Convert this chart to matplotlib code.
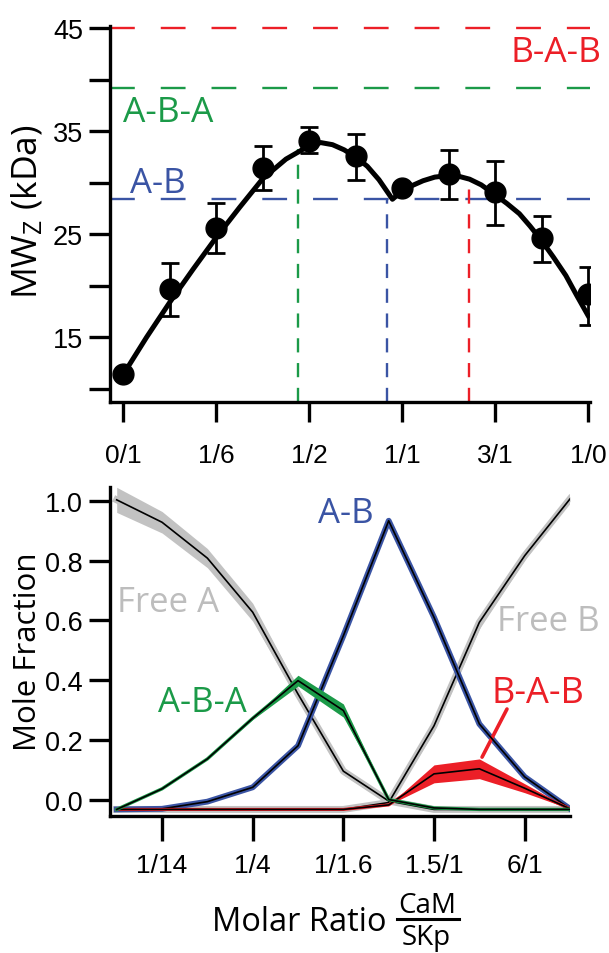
import matplotlib
matplotlib.use('Agg')
import matplotlib.pyplot as plt
from matplotlib.lines import Line2D

# ---------------- data: top panel ----------------
top_x = [0, 1, 2, 3, 4, 5, 6, 7, 8, 9, 10]
top_tick_pos = [0, 2, 4, 6, 8, 10]
top_tick_labels = ['0/1', '1/6', '1/2', '1/1', '3/1', '1/0']
mwz = [11.4, 19.7, 25.6, 31.4, 34.1, 32.6, 29.5, 30.9, 29.1, 24.6, 19.2]
mwz_err_lo = [0.0, 2.6, 2.4, 2.1, 1.2, 2.3, 0.5, 2.5, 3.2, 2.3, 3.0]
mwz_err_hi = [0.0, 2.5, 2.4, 2.2, 1.3, 2.1, 0.5, 2.3, 3.0, 2.2, 2.6]
fit_x = [0, 0.5, 1.0, 1.5, 2.0, 2.5, 3.0, 3.5, 4.0, 4.25, 4.5, 4.75, 5.0, 5.25,
         5.5, 5.79, 5.97, 6.2, 6.45, 6.7, 6.98, 7.2, 7.45, 7.7, 7.98, 8.25,
         8.52, 8.75, 8.98, 9.25, 9.52, 9.75, 10.0]
fit_y = [11.4, 15.0, 18.4, 21.6, 24.7, 27.6, 30.4, 32.3, 33.6, 33.9, 33.7, 33.2,
         32.5, 31.6, 30.3, 28.4, 29.1, 29.7, 30.2, 30.55, 30.7, 30.65, 30.35,
         29.8, 28.9, 28.0, 27.0, 25.8, 24.5, 22.8, 21.0, 19.1, 17.1]
h_levels = [45.0, 39.2, 28.4]
h_names = ['B-A-B', 'A-B-A', 'A-B']
v_x = [3.76, 5.68, 7.44]
v_top = [33.3, 28.4, 30.2]

# ---------------- data: bottom panel ----------------
mf_x = [0, 1, 2, 3, 4, 5, 6, 7, 8, 9, 10]
mf_tick_pos = [1, 3, 5, 7, 9]
mf_tick_labels = ['1/14', '1/4', '1/1.6', '1.5/1', '6/1']
free_a = [1.003, 0.928, 0.808, 0.627, 0.353, 0.095, -0.005, -0.033, -0.033, -0.033, -0.033]
free_a_w = [0.042, 0.036, 0.032, 0.03, 0.02, 0.012, 0.008, 0, 0, 0, 0]
free_b = [-0.033, -0.033, -0.033, -0.033, -0.033, -0.033, -0.01, 0.247, 0.593, 0.816, 1.006]
free_b_w = [0, 0, 0, 0, 0, 0, 0.006, 0.02, 0.022, 0.014, 0.008]
ab = [-0.033, -0.031, -0.007, 0.041, 0.18, 0.548, 0.933, 0.61, 0.253, 0.076, -0.031]
ab_w = [0, 0, 0, 0.004, 0.006, 0.006, 0.012, 0.008, 0.006, 0.004, 0]
aba = [-0.033, 0.036, 0.136, 0.272, 0.398, 0.298, 0.0, -0.028, -0.033, -0.033, -0.033]
aba_w = [0, 0, 0, 0.004, 0.018, 0.022, 0, 0, 0, 0, 0]
bab = [-0.033, -0.033, -0.033, -0.033, -0.033, -0.033, -0.018, 0.086, 0.103, 0.038, -0.031]
bab_w = [0, 0, 0, 0, 0, 0, 0, 0.03, 0.033, 0.015, 0]

RED = '#EC1F27'
GREEN = '#1B9A48'
BLUE = '#3A54A4'
GREY = '#C2C2C2'
GREYTXT = '#BDBDBD'

LABEL_FONT = ['Open Sans', 'DejaVu Sans']
TICK_FONT = ['Liberation Sans', 'DejaVu Sans']
plt.rcParams['font.family'] = TICK_FONT
plt.rcParams['mathtext.fontset'] = 'custom'
plt.rcParams['mathtext.rm'] = 'Open Sans'
plt.rcParams['mathtext.it'] = 'Open Sans'

fig = plt.figure(figsize=(6.09, 9.54), dpi=100)

# ================= top panel =================
ax1 = fig.add_axes([110 / 609, 1 - 403 / 954, 480 / 609, 376 / 954])
ax1.set_xlim(-0.286, 10.04)
ax1.set_ylim(8.72, 45.22)
for s in ['top', 'right']:
    ax1.spines[s].set_visible(False)
for s in ['left', 'bottom']:
    ax1.spines[s].set_linewidth(2.4)

hcols = [RED, GREEN, BLUE]
for lvl, c in zip(h_levels, hcols):
    ax1.axhline(lvl, color=c, lw=1.7, dashes=(10.5, 11), zorder=1, clip_on=False)
ax1.vlines(v_x, [ax1.get_ylim()[0]] * 3, v_top, colors=[GREEN, BLUE, RED],
           lw=1.7, linestyles=[(0, (6, 4.5))] * 3, zorder=1)

ax1.plot(fit_x, fit_y, color='black', lw=3.6, solid_joinstyle='round', zorder=3)
ax1.errorbar(top_x, mwz, yerr=[mwz_err_lo, mwz_err_hi], fmt='none', ecolor='black',
             elinewidth=2.0, capsize=6.5, capthick=2.0, zorder=4)
ax1.plot(top_x, mwz, 'o', color='black', ms=15, zorder=5)

ax1.set_xticks(top_tick_pos)
ax1.set_xticklabels(top_tick_labels)
ax1.set_yticks([10, 15, 20, 25, 30, 35, 40, 45])
ax1.set_yticklabels(['', '15', '', '25', '', '35', '', '45'])
ax1.tick_params(axis='x', direction='out', length=14.5, width=2.4, pad=15, labelsize=19)
ax1.tick_params(axis='y', direction='out', length=15, width=2.4, pad=4.5, labelsize=19.5)

ax1.text(10.28, 41.85, 'B-A-B', color=RED, fontsize=25.5, family=LABEL_FONT,
         ha='right', va='baseline', clip_on=False)
ax1.text(0.0, 36.0, 'A-B-A', color=GREEN, fontsize=25.5, family=LABEL_FONT,
         ha='left', va='baseline')
ax1.text(0.15, 29.1, 'A-B', color=BLUE, fontsize=25, family=LABEL_FONT,
         ha='left', va='baseline')

fig.text(28 / 609, 1 - 212 / 954, r'MW$_\mathrm{Z}$ (kDa)', rotation=90,
         ha='center', va='center', fontsize=25.5, family=LABEL_FONT)

# ================= bottom panel =================
ax2 = fig.add_axes([110 / 609, 1 - 816.7 / 954, 460 / 609, 328.7 / 954])
ax2.set_xlim(-0.148, 10.0)
ax2.set_ylim(-0.054, 1.046)
for s in ['top', 'right']:
    ax2.spines[s].set_visible(False)
for s in ['left', 'bottom']:
    ax2.spines[s].set_linewidth(2.4)


def band(y, w, color, lw, z):
    lo = [a - b for a, b in zip(y, w)]
    hi = [a + b for a, b in zip(y, w)]
    ax2.fill_between(mf_x, lo, hi, color=color, lw=0, zorder=z)
    ax2.plot(mf_x, y, color=color, lw=lw, solid_joinstyle='round', zorder=z)
    ax2.plot(mf_x, y, color='black', lw=1.2, zorder=z + 0.5)


band(free_a, free_a_w, GREY, 5.0, 2)
band(free_b, free_b_w, GREY, 5.0, 2.1)
band(ab, ab_w, BLUE, 4.2, 3)
band(bab, bab_w, RED, 2.2, 4)
band(aba, aba_w, GREEN, 2.4, 5)

ax2.set_xticks(mf_tick_pos)
ax2.set_xticklabels(mf_tick_labels)
ax2.set_yticks([0.0, 0.2, 0.4, 0.6, 0.8, 1.0])
ax2.set_yticklabels(['0.0', '0.2', '0.4', '0.6', '0.8', '1.0'])
ax2.tick_params(axis='x', direction='out', length=18, width=2.4, pad=9, labelsize=19)
ax2.tick_params(axis='y', direction='out', length=15, width=2.4, pad=4.5, labelsize=19.5)

ax2.text(0.0, 0.632, 'Free A', color=GREYTXT, fontsize=25, family=LABEL_FONT,
         ha='left', va='baseline', zorder=1)
ax2.text(4.45, 0.928, 'A-B', color=BLUE, fontsize=25, family=LABEL_FONT,
         ha='left', va='baseline')
ax2.text(0.92, 0.298, 'A-B-A', color=GREEN, fontsize=25, family=LABEL_FONT,
         ha='left', va='baseline')
ax2.text(8.39, 0.569, 'Free B', color=GREYTXT, fontsize=25, family=LABEL_FONT,
         ha='left', va='baseline', clip_on=False, zorder=1)
ax2.text(8.26, 0.328, 'B-A-B', color=RED, fontsize=26, family=LABEL_FONT,
         ha='left', va='baseline', clip_on=False)
ax2.annotate('', xy=(8.06, 0.142), xytext=(8.61, 0.303),
             arrowprops=dict(arrowstyle='-', color=RED, lw=2.6, shrinkA=0, shrinkB=0))

fig.text(28 / 609, 1 - 652 / 954, 'Mole Fraction', rotation=90,
         ha='center', va='center', fontsize=22.5, family=LABEL_FONT)

# x-axis label with stacked fraction
fig.text(211.7 / 609, 1 - 930.7 / 954, 'Molar Ratio', ha='left', va='baseline',
         fontsize=23.5, family=LABEL_FONT)
fig.text(427 / 609, 1 - 913 / 954, 'CaM', ha='center', va='baseline',
         fontsize=20, family=LABEL_FONT)
fig.text(426 / 609, 1 - 945 / 954, 'SKp', ha='center', va='baseline',
         fontsize=20, family=LABEL_FONT)
fig.add_artist(Line2D([396.7 / 609, 459.3 / 609], [1 - 920 / 954, 1 - 920 / 954],
                      transform=fig.transFigure, color='black', lw=2.2))

fig.savefig('out.png', dpi=100)
